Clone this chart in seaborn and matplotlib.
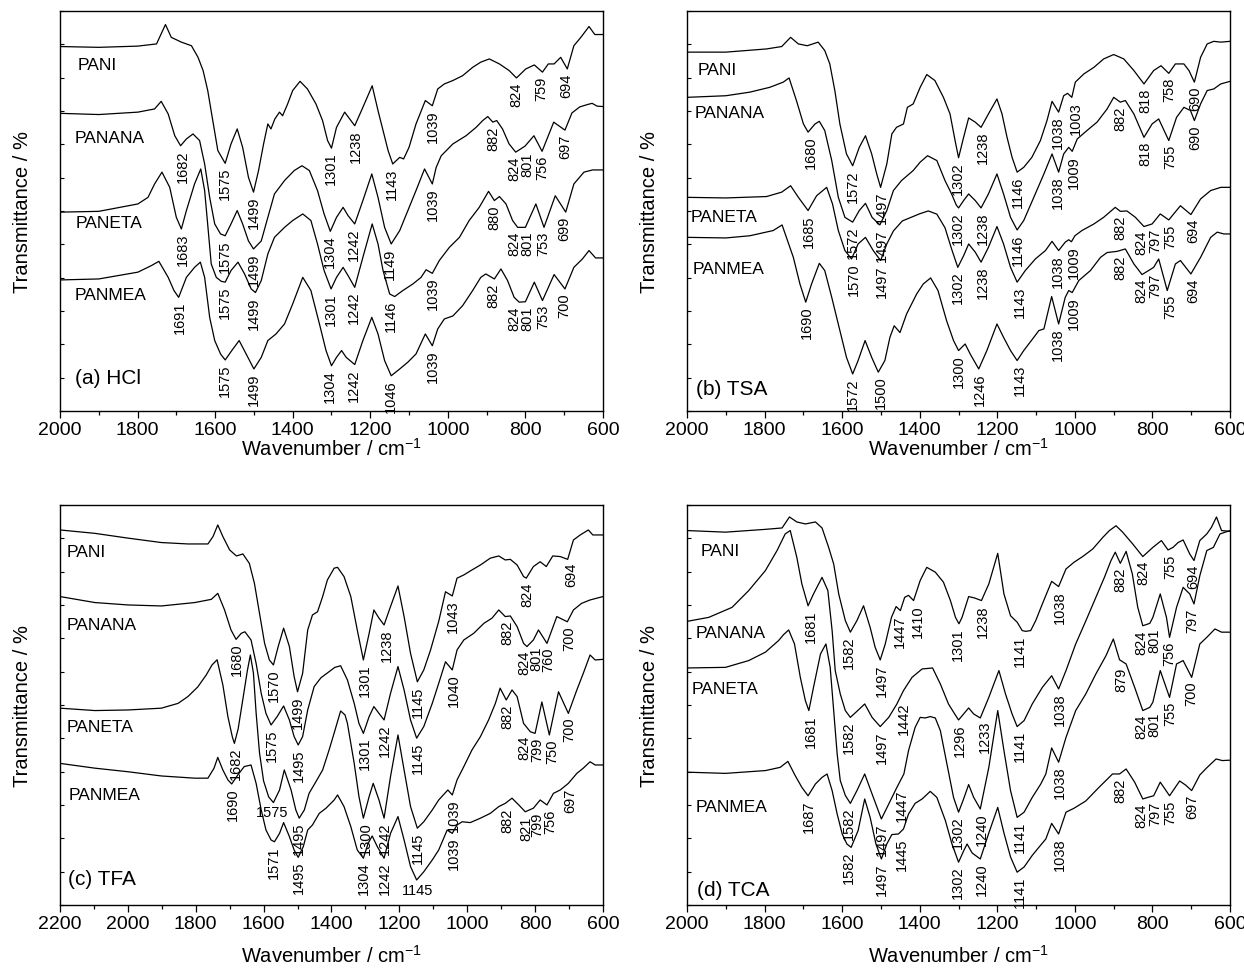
import numpy as np
import matplotlib
matplotlib.use('Agg')
import matplotlib.pyplot as plt
import seaborn as sns
from matplotlib.ticker import MultipleLocator

# ---- (a) HCl : (wavenumber, transmittance in arbitrary 0-100 units) ----
a_pani = [(2000, 91.1), (1900, 90.9), (1800, 91.2), (1751, 91.75), (1728, 96.6), (1713, 93.4), (1687, 92.2),
          (1661, 91.3), (1644, 88.4), (1631, 85.1), (1619, 80.1), (1606, 72.6), (1593, 65.1), (1574, 61.9),
          (1559, 66.75), (1543, 70.5), (1529, 65.9), (1514, 58.4), (1501, 54.7), (1488, 60.1), (1475, 66.75),
          (1464, 71.75), (1456, 70.5), (1446, 73), (1434, 74.7), (1426, 73.8), (1413, 76.75), (1400, 80.1),
          (1381, 82.4), (1362, 80.5), (1340, 76.75), (1323, 72.6), (1310, 67.6), (1300, 65.7), (1287, 70.9),
          (1266, 74.7), (1240, 71.3), (1219, 75.9), (1195, 81.3), (1180, 75.1), (1167, 70.1), (1154, 65.1),
          (1142, 61.75), (1124, 63.4), (1114, 63), (1100, 65.9), (1082, 71.75), (1058, 77.6), (1040, 76.3),
          (1026, 80.5), (1009, 81.75), (987, 82.6), (962, 83.8), (936, 85.9), (915, 87.2), (893, 88),
          (867, 86.75), (842, 85.1), (823, 83.25), (799, 85.5), (777, 86.5), (756, 84.7), (741, 86.75),
          (726, 86.75), (709, 88.4), (692, 85.5), (675, 91.3), (657, 93.4), (636, 96.1), (621, 94.1), (600, 94.1)]
a_panana = [(2000, 74.4), (1900, 74.1), (1799, 74.7), (1756, 75.5), (1739, 77.4), (1721, 74.25), (1704, 68.8),
            (1689, 66.3), (1674, 68), (1657, 69.25), (1640, 67.6), (1627, 61.75), (1614, 53.4), (1601, 46.75),
            (1586, 44.25), (1574, 43.8), (1559, 46.75), (1543, 50.1), (1529, 46.75), (1514, 42.5), (1501, 40.5),
            (1481, 42.5), (1464, 48.4), (1447, 54.25), (1421, 57.6), (1396, 60.1), (1376, 61.3), (1357, 60.1),
            (1336, 55.1), (1319, 49.25), (1303, 44.9), (1287, 48.4), (1270, 50.9), (1257, 48.8), (1240, 46.75),
            (1219, 52.6), (1196, 59.25), (1180, 53.4), (1163, 45.9), (1146, 41.75), (1124, 45.1), (1103, 50.1),
            (1082, 55.1), (1060, 60.5), (1040, 56.75), (1030, 60.9), (1017, 63.8), (987, 66.75), (953, 68.8),
            (927, 70.9), (910, 72.6), (897, 73.6), (884, 72.2), (874, 72.6), (859, 70.5), (842, 66.75),
            (825, 64.7), (801, 66.2), (778, 68.8), (757, 64.9), (727, 72.2), (698, 70.2), (680, 74.5),
            (660, 76), (640, 76.6), (628, 76.9), (615, 76.2), (600, 76.1)]
a_paneta = [(2000, 49.7), (1900, 49.9), (1799, 51.75), (1773, 53.4), (1756, 56.75), (1737, 59.7), (1717, 55.9),
            (1700, 48.4), (1687, 45.5), (1674, 50.1), (1653, 56.75), (1637, 60.5), (1627, 55.1), (1620, 47.6),
            (1610, 36.75), (1597, 33.4), (1584, 32.4), (1574, 32.2), (1559, 35.1), (1541, 37.2), (1524, 34.25),
            (1507, 30.5), (1496, 29.6), (1481, 32.6), (1464, 39.25), (1447, 43.4), (1421, 45.9), (1400, 47.6),
            (1374, 49.25), (1353, 47.6), (1336, 41.75), (1319, 35.1), (1301, 30.5), (1287, 33.4), (1270, 35.9),
            (1257, 33.8), (1240, 30.9), (1219, 38.4), (1195, 46.75), (1180, 41.75), (1167, 35.1), (1150, 29.25),
            (1137, 28.6), (1116, 30.1), (1090, 31.75), (1069, 33.4), (1056, 35.3), (1040, 34.4), (1022, 37.6),
            (996, 40.9), (970, 43.4), (945, 47.6), (919, 50.9), (895, 54.9), (880, 52.6), (867, 53.6),
            (850, 51.75), (833, 47.6), (820, 45.9), (800, 45.9), (773, 51.75), (752, 45.9), (723, 53.8),
            (696, 49.7), (675, 56.75), (649, 59.7), (627, 60.25), (600, 60.25)]
a_panmea = [(2000, 32.75), (1900, 33), (1799, 34.7), (1765, 36.3), (1745, 37.4), (1721, 33.4), (1706, 30.1),
            (1694, 28.4), (1674, 33.4), (1653, 35.9), (1638, 37.2), (1627, 33.4), (1614, 23.4), (1601, 17.6),
            (1586, 14.25), (1574, 12.75), (1557, 15.1), (1538, 17.6), (1520, 14.25), (1500, 10.5), (1481, 13.4),
            (1464, 17.6), (1443, 19.25), (1421, 21.75), (1400, 26.75), (1374, 33.4), (1353, 30.1), (1331, 21.75),
            (1314, 15.1), (1300, 11.3), (1287, 13.4), (1274, 15.1), (1262, 13.4), (1240, 11.6), (1219, 17.6),
            (1196, 23.4), (1180, 19.25), (1163, 12.6), (1146, 8.8), (1124, 10.5), (1103, 12.2), (1082, 14.25),
            (1058, 19.25), (1040, 16.3), (1026, 20.5), (1009, 23), (987, 23.75), (962, 26.3), (936, 30.1),
            (915, 33.4), (902, 34.25), (880, 33), (863, 35.5), (846, 32.6), (829, 28.4), (816, 27.2), (800, 27.3),
            (777, 32.2), (756, 27.6), (726, 34.1), (698, 30.5), (675, 35.9), (653, 38), (636, 40.1),
            (619, 38.25), (600, 38.25)]
a_pani_pk = ['1575', '1499', '1301', '1238', '1143', '1039', '824', '759', '694']
a_panana_pk = ['1682', '1575', '1499', '1304', '1242', '1149', '1039', '882', '824', '801', '756', '697']
a_paneta_pk = ['1683', '1575', '1499', '1301', '1242', '1146', '1039', '880', '824', '801', '753', '699']
a_panmea_pk = ['1691', '1575', '1499', '1304', '1242', '1046', '1039', '882', '824', '801', '753', '700']

# ---- (b) TSA ----
b_pani = [(2000, 89.7), (1900, 89.7), (1795, 90.5), (1756, 91.1), (1733, 93.4), (1713, 91.75), (1690, 91.3),
          (1662, 92.2), (1645, 90.1), (1632, 86.75), (1619, 80.1), (1606, 71.75), (1589, 64.25), (1573, 61.3),
          (1556, 65.9), (1540, 68.8), (1524, 64.25), (1511, 59.25), (1501, 55.9), (1485, 61.75), (1472, 69.25),
          (1460, 70.9), (1442, 71.75), (1432, 75.9), (1417, 76.75), (1399, 80.9), (1382, 84.1), (1361, 82.6),
          (1339, 78.4), (1322, 74.25), (1309, 67.6), (1300, 63.3), (1287, 68.4), (1274, 73.25), (1257, 72.2),
          (1242, 70.9), (1223, 74.25), (1201, 78), (1188, 74.25), (1175, 68.4), (1162, 63.4), (1149, 59.7),
          (1132, 60.9), (1111, 63.4), (1089, 67.6), (1072, 72.6), (1059, 77.4), (1042, 74.7), (1029, 78.8),
          (1019, 79.4), (1008, 78.4), (999, 82.2), (977, 84.25), (951, 85.9), (926, 88), (900, 89.1), (874, 88),
          (848, 85.1), (822, 81.75), (797, 85.1), (778, 86.3), (758, 84.4), (741, 86.75), (719, 86.75),
          (706, 85.1), (692, 82.2), (676, 88.4), (659, 91.75), (642, 92.4), (624, 92.2), (600, 92.4)]
b_panana = [(2000, 78.4), (1900, 78.8), (1838, 79.7), (1787, 80.9), (1752, 82.2), (1737, 83.25), (1718, 77.6),
            (1700, 71.75), (1688, 69.7), (1670, 71.75), (1659, 72.4), (1645, 70.1), (1627, 62.6), (1610, 53.4),
            (1593, 48.4), (1573, 47.2), (1556, 50.1), (1540, 51.9), (1523, 48.4), (1503, 46.5), (1485, 50.1),
            (1468, 55.1), (1447, 57.6), (1417, 60.1), (1399, 62.2), (1380, 63.8), (1356, 62.6), (1335, 57.6),
            (1318, 54.25), (1306, 51.5), (1300, 50.75), (1287, 52.6), (1274, 54.25), (1257, 52.6), (1242, 50.75),
            (1223, 54.25), (1201, 59.25), (1184, 54.25), (1166, 48.4), (1149, 45.25), (1132, 47.6), (1106, 53.4),
            (1080, 59.25), (1059, 64.25), (1042, 59.7), (1029, 64.25), (1016, 65.9), (1007, 64.9), (994, 68),
            (969, 70.1), (943, 72.2), (917, 75.5), (900, 78.4), (883, 77.2), (870, 77.6), (848, 74.25),
            (822, 68.4), (801, 71.75), (784, 73), (758, 67.6), (738, 73.4), (719, 75.9), (702, 75.1),
            (692, 72.6), (676, 76.75), (659, 80.1), (642, 80.5), (624, 81.75), (600, 82.4)]
b_paneta = [(2000, 53.4), (1900, 53.25), (1795, 53.6), (1756, 54.7), (1733, 56.3), (1713, 53.4), (1688, 50.1),
            (1666, 53.8), (1640, 55.9), (1625, 51.75), (1610, 45.1), (1593, 40.1), (1576, 38), (1559, 41.75),
            (1540, 43.4), (1520, 40.1), (1501, 37.6), (1485, 41.75), (1468, 45), (1445, 47.5), (1420, 48.5),
            (1400, 49.3), (1378, 50), (1356, 49.2), (1335, 45.8), (1318, 40.5), (1302, 35.9), (1287, 38.8),
            (1274, 41.75), (1257, 39.7), (1242, 37.2), (1223, 40.9), (1201, 46.1), (1184, 41.75), (1166, 35.9),
            (1149, 32.2), (1128, 35.1), (1102, 38), (1076, 40.1), (1059, 42.4), (1042, 40.1), (1025, 42.2),
            (1016, 42.8), (1009, 42.3), (1000, 43.8), (982, 45.1), (951, 46.75), (926, 48.4), (896, 50.9),
            (883, 49.9), (866, 50), (844, 48.4), (822, 46.1), (801, 46.75), (780, 49.25), (758, 47.75),
            (728, 51.3), (701, 49.1), (676, 53), (650, 55.1), (624, 55.9), (600, 55.9)]
b_panmea = [(2000, 43.4), (1900, 43.25), (1838, 43.8), (1778, 45.1), (1755, 46.5), (1726, 38.4), (1709, 31.75),
            (1694, 27.2), (1679, 31.75), (1659, 36.9), (1645, 35.1), (1627, 28.4), (1606, 20.1), (1589, 13.4),
            (1573, 9.25), (1559, 12.6), (1541, 17.6), (1524, 13.4), (1507, 9.7), (1490, 12.6), (1477, 18.4),
            (1466, 21.3), (1451, 19.6), (1434, 24.25), (1408, 29.25), (1391, 31.75), (1372, 33.25), (1353, 30.1),
            (1331, 22.6), (1313, 17.6), (1300, 15.1), (1283, 16.75), (1270, 14.25), (1248, 10.5), (1227, 15.1),
            (1201, 21.75), (1184, 18.4), (1166, 15.1), (1149, 12.6), (1132, 15.1), (1106, 18.4), (1093, 20.1),
            (1080, 20.5), (1060, 28.6), (1042, 21.75), (1025, 28.4), (1016, 30.1), (1007, 29.6), (990, 32.6),
            (960, 35.1), (934, 38.4), (917, 39.6), (891, 39.9), (870, 40.5), (848, 36.75), (827, 34.1),
            (810, 35.1), (797, 35.9), (784, 38), (762, 30.1), (741, 36.75), (728, 37.6), (701, 34.25),
            (676, 38.4), (650, 43.4), (633, 44.7), (616, 44.25), (600, 44.25)]
b_pani_pk = ['1572', '1497', '1302', '1238', '1146', '1038', '1003', '818', '758', '690']
b_panana_pk = ['1680', '1572', '1497', '1302', '1238', '1146', '1038', '1009', '882', '818', '755', '690']
b_paneta_pk = ['1685', '1570', '1497', '1302', '1238', '1143', '1038', '1009', '882', '824', '797', '755', '694']
b_panmea_pk = ['1690', '1572', '1500', '1300', '1246', '1143', '1038', '1009', '882', '824', '797', '755', '694']

# ---- (c) TFA ----
c_pani = [(2200, 93.75), (2097, 92.9), (1999, 91.7), (1901, 90.6), (1823, 90.25), (1764, 90.25), (1749, 92.1),
          (1735, 95), (1720, 92.1), (1700, 88.75), (1680, 87.25), (1661, 87.75), (1642, 85.4), (1627, 80.4),
          (1612, 72.9), (1597, 65.4), (1583, 61.25), (1571, 60), (1557, 64.6), (1541, 69.2), (1524, 64.6),
          (1510, 57.1), (1500, 53.3), (1485, 57.9), (1470, 68.75), (1456, 72.5), (1441, 73.3), (1426, 77.1),
          (1412, 81.25), (1392, 84.2), (1382, 84.4), (1363, 82.1), (1343, 77.1), (1324, 68.75), (1306, 61.25),
          (1289, 67.9), (1275, 73.75), (1260, 71.7), (1245, 70), (1226, 74.6), (1204, 79.75), (1186, 72.1),
          (1167, 62.9), (1147, 55.8), (1128, 58.75), (1108, 63.75), (1084, 70.9), (1064, 78.3), (1044, 77.25),
          (1030, 81.7), (1010, 82.5), (986, 83.75), (961, 85), (932, 86.7), (907, 87.25), (888, 86.25),
          (873, 86.4), (853, 85), (834, 82.1), (826, 81.7), (805, 84.6), (785, 85.8), (767, 84.6), (748, 87.25),
          (726, 87.1), (704, 86.4), (687, 91.25), (667, 92.5), (643, 93.75), (630, 92.5), (600, 92.5)]
c_panana = [(2200, 77.1), (2097, 75.6), (1999, 75), (1901, 74.75), (1803, 75.6), (1754, 76.4), (1735, 77.9),
            (1715, 73.75), (1696, 68.75), (1681, 66.4), (1666, 67.9), (1655, 68.3), (1637, 66.25), (1622, 60.4),
            (1607, 52.9), (1593, 47.9), (1578, 45), (1560, 47.1), (1541, 49.75), (1524, 46.25), (1510, 42.1),
            (1498, 40), (1485, 42.1), (1470, 48.75), (1451, 54.6), (1431, 56.8), (1412, 58), (1390, 59.4),
            (1373, 59.8), (1353, 56.25), (1333, 50.4), (1319, 45.4), (1306, 42.9), (1289, 47.1), (1275, 49.6),
            (1260, 47.9), (1245, 46.25), (1226, 52.9), (1204, 59.6), (1186, 53.75), (1167, 46.25), (1149, 41.7),
            (1128, 44.6), (1103, 50.4), (1084, 55.4), (1064, 60.8), (1044, 58.75), (1030, 63.75), (1010, 66.25),
            (981, 67.9), (951, 70.4), (927, 71.7), (907, 73.75), (888, 72.1), (873, 72.25), (853, 69.6),
            (834, 65.4), (824, 64.6), (805, 66.25), (790, 68.75), (765, 65.4), (736, 72.1), (705, 70.8),
            (687, 73.75), (663, 75.4), (638, 76.25), (600, 77.1)]
c_paneta = [(2200, 49.2), (2097, 48.6), (1999, 48.75), (1901, 49.2), (1852, 50.4), (1823, 52.1), (1794, 54.5),
            (1769, 57.5), (1752, 60), (1737, 61.3), (1720, 55), (1705, 47), (1692, 42), (1686, 40.4), (1675, 44),
            (1660, 52), (1648, 58.5), (1639, 62.5), (1630, 58), (1622, 48), (1612, 38), (1600, 31), (1585, 27),
            (1571, 25.6), (1553, 28.75), (1539, 33.75), (1519, 28.75), (1505, 23.75), (1495, 21.7), (1480, 23.75),
            (1466, 27.9), (1446, 30.8), (1426, 33.75), (1407, 38.75), (1392, 43), (1373, 48.5), (1360, 47.5),
            (1353, 45.4), (1333, 35.4), (1319, 27.1), (1306, 21.7), (1289, 27.1), (1277, 30.4), (1260, 26.25),
            (1245, 21.7), (1226, 32.1), (1204, 42.5), (1186, 33.75), (1167, 24.6), (1147, 19.2), (1128, 20.8),
            (1103, 23.75), (1084, 26.25), (1057, 28.75), (1044, 27.5), (1030, 31.25), (1010, 34.6), (986, 38.75),
            (961, 42.1), (937, 46.25), (917, 50.4), (903, 54.2), (885, 51.25), (868, 53.75), (853, 52.1),
            (834, 45.4), (814, 43.3), (800, 42.9), (780, 50.75), (758, 42.5), (731, 53.3), (702, 47.9),
            (677, 53.75), (658, 57.9), (638, 62.5), (623, 61.25), (600, 61.4)]
c_panmea = [(2200, 35.4), (2097, 34.2), (1999, 33.3), (1901, 32.25), (1803, 31.7), (1764, 31.7), (1746, 34.2),
            (1735, 36.9), (1720, 33.75), (1705, 31.25), (1694, 30.25), (1676, 32.5), (1657, 34.6), (1637, 35),
            (1622, 30.4), (1607, 23.75), (1593, 18.75), (1578, 16.25), (1568, 15.8), (1553, 17.9), (1541, 20.6),
            (1524, 17.1), (1510, 13.75), (1498, 11.9), (1483, 14.6), (1470, 18.75), (1456, 20), (1436, 22.9),
            (1416, 24.2), (1392, 26.25), (1382, 27.5), (1363, 24.6), (1343, 19.6), (1324, 13.75), (1306, 11.7),
            (1292, 15.4), (1280, 17.25), (1265, 14.6), (1245, 11.7), (1226, 17.9), (1204, 22.1), (1186, 16.25),
            (1167, 9.6), (1149, 6.25), (1128, 8.3), (1103, 11.25), (1084, 13.75), (1059, 18.75), (1044, 17.9),
            (1030, 20), (1015, 20.8), (991, 20.6), (961, 21.7), (932, 22.9), (907, 24.6), (888, 25.4),
            (868, 26.7), (848, 25), (829, 23.3), (805, 24.2), (785, 26.25), (765, 25), (746, 27.9), (726, 28.75),
            (702, 30.4), (677, 32.9), (658, 34.2), (638, 35.8), (623, 35), (600, 35)]
c_pani_pk = ['1570', '1499', '1301', '1238', '1145', '1043', '824', '694']
c_panana_pk = ['1680', '1575', '1495', '1301', '1242', '1145', '1040', '882', '824', '801', '760', '700']
c_paneta_pk = ['1682', '1575', '1495', '1300', '1242', '1145', '1039', '882', '824', '799', '750', '700']
c_panmea_pk = ['1690', '1571', '1495', '1304', '1242', '1145', '1039', '882', '821', '799', '756', '697']

# ---- (d) TCA ----
d_pani = [(2000, 93.6), (1901, 93.2), (1798, 93.9), (1755, 94.25), (1736, 97), (1717, 95.75), (1695, 95.25),
          (1669, 95.75), (1652, 94.25), (1635, 89.4), (1622, 85.25), (1609, 77.75), (1592, 71.1), (1579, 68.2),
          (1562, 71.1), (1545, 74.8), (1528, 69.4), (1515, 64.4), (1502, 61.25), (1489, 65.25), (1473, 71.9),
          (1461, 74.6), (1450, 73.6), (1439, 76.9), (1429, 77.4), (1416, 76.1), (1399, 81.1), (1382, 84.4),
          (1360, 83.2), (1339, 80.7), (1321, 76.1), (1308, 71.9), (1299, 70.3), (1291, 71.9), (1274, 77.1),
          (1259, 76.75), (1241, 76.1), (1222, 80.25), (1199, 87.9), (1183, 77.75), (1166, 72.3), (1149, 70.7),
          (1136, 68.6), (1127, 68.4), (1114, 68.6), (1101, 71.1), (1084, 75.25), (1060, 80.9), (1042, 79.6),
          (1023, 84), (1002, 85.7), (980, 87.1), (954, 89), (928, 91.9), (911, 93.6), (894, 94.8), (877, 93.2),
          (851, 90.25), (825, 87.1), (799, 89.4), (777, 91.1), (760, 88.75), (747, 89.4), (734, 90.6),
          (721, 91.25), (704, 87.75), (693, 86.1), (678, 91.1), (660, 92.75), (648, 94.4), (635, 97),
          (622, 93.6), (600, 93.4)]
d_panana = [(2000, 70.9), (1944, 71.9), (1884, 74.4), (1841, 78.6), (1798, 83.6), (1768, 88.6), (1747, 92.75),
            (1734, 93.6), (1717, 86.9), (1704, 80.25), (1688, 74.8), (1674, 77.75), (1652, 81.9), (1637, 78.6),
            (1626, 68.6), (1618, 58.6), (1605, 52.75), (1592, 48.6), (1579, 46.9), (1560, 48.6), (1542, 50.25),
            (1523, 46.9), (1502, 44.6), (1480, 46.9), (1459, 50.25), (1442, 53.6), (1420, 56.9), (1394, 59),
            (1367, 59.25), (1347, 55.25), (1326, 50.25), (1310, 47.75), (1300, 46.25), (1287, 47.75),
            (1274, 49.25), (1261, 47.75), (1244, 46.75), (1222, 51.9), (1196, 58.6), (1179, 52.75), (1162, 47.75),
            (1149, 44.6), (1131, 46.1), (1110, 50.25), (1084, 54.4), (1060, 57.3), (1042, 54), (1023, 58.6),
            (998, 65.25), (972, 71), (946, 76.9), (924, 81.9), (907, 86.1), (896, 88.2), (883, 85.4), (868, 88.4),
            (852, 82.75), (838, 74.4), (825, 69.8), (807, 70.4), (799, 71.9), (780, 77.75), (764, 71.9),
            (756, 66.9), (738, 74.4), (721, 79.4), (704, 77.75), (693, 75.25), (678, 82.3), (660, 88.6),
            (643, 89.4), (626, 92.75), (600, 93.6)]
d_paneta = [(2000, 59.25), (1901, 59.4), (1841, 61.1), (1798, 63.2), (1764, 66.1), (1751, 67.6), (1738, 68.75),
            (1723, 65.25), (1708, 56.9), (1695, 51.1), (1686, 48.6), (1674, 54.4), (1656, 62.75), (1642, 65.25),
            (1631, 59.4), (1622, 48.6), (1613, 37.75), (1605, 31.1), (1592, 27.4), (1579, 25.4), (1562, 28.6),
            (1542, 32.75), (1523, 27.75), (1499, 21.5), (1480, 25.25), (1459, 29.4), (1441, 32.75), (1429, 38.6),
            (1412, 44.4), (1399, 46.9), (1386, 46.75), (1373, 47.1), (1360, 46.75), (1347, 43.6), (1330, 35.25),
            (1313, 26.9), (1300, 23.2), (1287, 26.5), (1274, 30.1), (1261, 26.9), (1244, 24), (1222, 34.4),
            (1199, 48.6), (1183, 38.6), (1166, 28.6), (1149, 21.9), (1131, 23.2), (1110, 26.9), (1088, 30.25),
            (1075, 32.75), (1060, 39.25), (1042, 35.7), (1023, 41.9), (998, 48.6), (972, 52.75), (946, 57.75),
            (920, 62.3), (901, 66.5), (885, 61.3), (868, 60.25), (846, 54.4), (825, 48.6), (807, 49.4),
            (799, 50.7), (780, 58.6), (756, 51.9), (738, 60.25), (721, 61.1), (699, 56.9), (678, 65.25),
            (660, 66.9), (639, 69), (622, 68.2), (600, 68.2)]
d_panmea = [(2000, 33.2), (1901, 32.9), (1798, 33.6), (1760, 34.4), (1740, 35.9), (1721, 32.3), (1704, 29.4),
            (1688, 27.3), (1669, 30.25), (1652, 31.9), (1639, 32.75), (1626, 28.6), (1613, 22.75), (1600, 17.75),
            (1588, 15.25), (1577, 14.4), (1559, 18.6), (1542, 26.5), (1528, 21.9), (1513, 15.25), (1499, 11.5),
            (1485, 15.25), (1472, 17.6), (1455, 17.75), (1442, 19), (1429, 22.75), (1412, 25.4), (1394, 26.5),
            (1373, 28.4), (1356, 26.9), (1334, 21.1), (1317, 15.25), (1300, 10.7), (1287, 13.5), (1278, 15.25),
            (1265, 13), (1244, 11.5), (1222, 18), (1199, 24.4), (1183, 18), (1166, 12), (1149, 8.2), (1131, 9.5),
            (1110, 12.4), (1088, 15), (1075, 16.5), (1060, 20.4), (1042, 17.75), (1023, 23.2), (1002, 24.2),
            (972, 26), (938, 29.4), (903, 32.75), (885, 32.75), (868, 34), (846, 30.7), (825, 26.5), (812, 26.9),
            (797, 27.3), (780, 30.7), (756, 27.3), (730, 31), (715, 30), (699, 28.6), (678, 32.5), (660, 34.3),
            (636, 36.5), (620, 36.1), (600, 36.2)]
d_pani_pk = ['1582', '1497', '1447', '1410', '1301', '1238', '1141', '1038', '824', '755', '694']
d_panana_pk = ['1681', '1582', '1497', '1442', '1296', '1233', '1141', '1038', '882', '824', '801', '756', '797']
d_paneta_pk = ['1681', '1582', '1497', '1447', '1302', '1240', '1141', '1038', '879', '824', '801', '755', '700']
d_panmea_pk = ['1687', '1582', '1497', '1445', '1302', '1240', '1141', '1038', '882', '824', '797', '755', '697']

# labels whose printed number differs from the band they mark
band_of = {('a', 'PANMEA', '1046'): 1146, ('d', 'PANANA', '797'): 697}
flat_labels = {('c', 'PANETA', '1575'), ('c', 'PANMEA', '1145')}

sns.set_theme(style='ticks')
plt.rcParams['font.family'] = ['Liberation Sans', 'DejaVu Sans']
plt.rcParams['mathtext.default'] = 'regular'
plt.rcParams['text.color'] = 'black'
plt.rcParams['axes.labelcolor'] = 'black'
plt.rcParams['xtick.color'] = 'black'
plt.rcParams['ytick.color'] = 'black'


def draw_curve(ax, panel, name, pts, peaks):
    wn = np.array([p[0] for p in pts], float)
    tr = np.array([p[1] for p in pts], float)
    sns.lineplot(x=wn, y=tr, ax=ax, color='black', lw=0.9, sort=False, estimator=None,
                 solid_joinstyle='round')
    pos = [band_of.get((panel, name, s), float(s)) for s in peaks]
    for i, s in enumerate(peaks):
        x0 = pos[i]
        xs = np.linspace(x0 - 9, x0 + 9, 19)
        y0 = np.interp(xs, wn[::-1], tr[::-1]).min()
        dx = 0.0
        if i > 0 and abs(pos[i - 1] - x0) < 40:
            dx += 1.5
        if i < len(pos) - 1 and abs(pos[i + 1] - x0) < 40:
            dx -= 1.5
        if (panel, name, s) in flat_labels:
            ax.annotate(s, xy=(x0, y0), xytext=(0, -2), textcoords='offset points',
                        ha='center', va='top', fontsize=10.5, annotation_clip=False)
        else:
            ax.annotate(s, xy=(x0, y0), xytext=(dx, -2.5), textcoords='offset points',
                        rotation=90, ha='center', va='top', fontsize=10.5, annotation_clip=False)


fig = plt.figure(figsize=(12.44, 9.70), dpi=100)
fig.patch.set_facecolor('white')

panels = [
    ('a', [0.0482, 0.5753, 0.4365, 0.4124], 2000, '(a) HCl',
     [('PANI', a_pani, a_pani_pk), ('PANANA', a_panana, a_panana_pk),
      ('PANETA', a_paneta, a_paneta_pk), ('PANMEA', a_panmea, a_panmea_pk)],
     [(1955, 86.5), (1962, 68.3), (1960, 47), (1962, 29)], (1962, 8.25), -0.092),
    ('b', [0.5523, 0.5753, 0.4365, 0.4124], 2000, '(b) TSA',
     [('PANI', b_pani, b_pani_pk), ('PANANA', b_panana, b_panana_pk),
      ('PANETA', b_paneta, b_paneta_pk), ('PANMEA', b_panmea, b_panmea_pk)],
     [(1972, 85.3), (1980, 74.7), (1991, 48.7), (1985, 35.5)], (1976, 5.5), -0.092),
    ('c', [0.0482, 0.0660, 0.4365, 0.4124], 2200, '(c) TFA',
     [('PANI', c_pani, c_pani_pk), ('PANANA', c_panana, c_panana_pk),
      ('PANETA', c_paneta, c_paneta_pk), ('PANMEA', c_panmea, c_panmea_pk)],
     [(2180, 88.25), (2180, 70.2), (2180, 44.6), (2175, 27.5)], (2175, 6.5), -0.125),
    ('d', [0.5523, 0.0660, 0.4365, 0.4124], 2000, '(d) TCA',
     [('PANI', d_pani, d_pani_pk), ('PANANA', d_panana, d_panana_pk),
      ('PANETA', d_paneta, d_paneta_pk), ('PANMEA', d_panmea, d_panmea_pk)],
     [(1966, 88.7), (1979, 68), (1989, 54), (1979, 24.5)], (1974, 3.8), -0.125),
]

for key, rect, xmax, tag, curves, name_at, tag_at, xlab_y in panels:
    ax = fig.add_axes(rect)
    for name, pts, peaks in curves:
        draw_curve(ax, key, name, pts, peaks)
    for (name, _, _), (nx, ny) in zip(curves, name_at):
        ax.text(nx, ny, name, fontsize=12.5, ha='left', va='center')
    ax.text(tag_at[0], tag_at[1], tag, fontsize=15, ha='left', va='center')

    ax.set_xlim(xmax, 600)
    ax.set_ylim(0, 100)
    ax.xaxis.set_major_locator(MultipleLocator(200))
    ax.xaxis.set_minor_locator(MultipleLocator(100))
    ax.yaxis.set_major_locator(MultipleLocator(100 / 12))
    ax.tick_params(axis='x', which='major', direction='out', length=5, width=0.9,
                   labelsize=14, pad=2, color='black', labelcolor='black')
    ax.tick_params(axis='x', which='minor', direction='out', length=3, width=0.9, color='black')
    ax.tick_params(axis='y', which='major', direction='in', length=3, width=0.8,
                   labelleft=False, color='black')
    for sp in ax.spines.values():
        sp.set_linewidth(1.0)
        sp.set_color('black')
    ax.set_xlabel('Wavenumber / cm$^{-1}$', fontsize=14.5)
    ax.set_ylabel('Transmittance / %', fontsize=14.5)
    ax.xaxis.set_label_coords(0.5, xlab_y)
    ax.xaxis.label.set_va('center')
    ax.yaxis.set_label_coords(-0.052, 0.5)
    ax.grid(False)
    ax.set_facecolor('white')

fig.savefig('out.png', dpi=100)
